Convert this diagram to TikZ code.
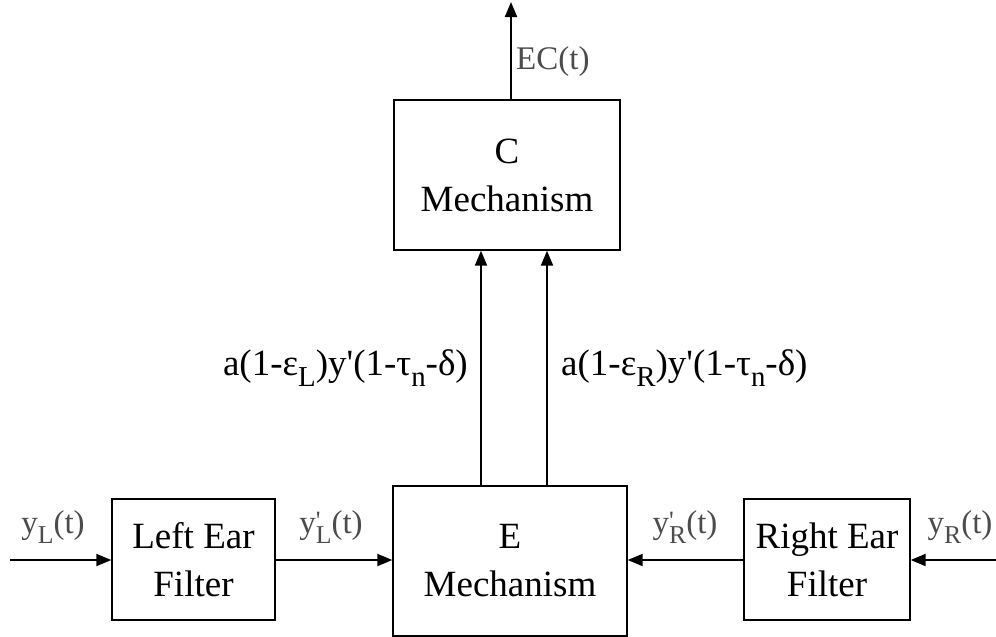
\documentclass[tikz,border=0pt]{standalone}
\usepackage{fontspec}
\usepackage{graphicx}
\setmainfont{Liberation Serif}
\usetikzlibrary{arrows.meta}
\newcommand{\sub}[1]{\raisebox{-0.28em}{\scalebox{0.78}{#1}}}
\newcommand{\pr}{\rlap{\raisebox{0.12em}{\scalebox{0.8}{\textquotesingle}}}}
\newcommand{\apos}{\textquotesingle}
\begin{document}
\begin{tikzpicture}[x=1pt,y=1pt,
  box/.style={draw, line width=1.4pt, rectangle, align=center, inner sep=0pt,
    font=\fontsize{37}{48}\selectfont},
  arr/.style={line width=2pt, -{Triangle[length=15pt,width=12pt]}},
  lbl/.style={font=\fontsize{37}{40}\selectfont, inner sep=0pt},
  sig/.style={font=\fontsize{33}{36}\selectfont, inner sep=0pt, text=black!70}]
\useasboundingbox (0,0) rectangle (996,-637);
\node[box, minimum width=226, minimum height=150] (C) at (507,-175) {C\\Mechanism};
\node[box, minimum width=234, minimum height=150] (E) at (510,-561) {E\\Mechanism};
\node[box, minimum width=163, minimum height=121] (LF) at (193.5,-559.5) {Left Ear\\Filter};
\node[box, minimum width=166, minimum height=121] (RF) at (827,-559.5) {Right Ear\\Filter};
\coordinate (inL) at (10,-560);
\coordinate (inR) at (996,-560);
\coordinate (out) at (511,-2);
\coordinate (upL) at (481,0);
\coordinate (upR) at (547,0);
\draw[arr] (inL) -- (LF.west |- inL);
\draw[arr] (LF.east |- inL) -- (E.west |- inL);
\draw[arr] (inR) -- (RF.east |- inR);
\draw[arr] (RF.west |- inR) -- (E.east |- inR);
\draw[arr] (E.north -| upL) -- (C.south -| upL);
\draw[arr] (E.north -| upR) -- (C.south -| upR);
\draw[arr] (C.north -| out) -- (out);
\node[sig] (lyL) at (53,-527) {y\sub{L}(t)};
\node[sig] (lyLp) at (331,-527) {y\pr\sub{L}(t)};
\node[sig] (lyRp) at (685,-527) {y\pr\sub{R}(t)};
\node[sig] (lyR) at (960,-527) {y\sub{R}(t)};
\node[sig, anchor=west] (lEC) at (516,-62) {EC(t)};
\node[lbl, anchor=east] (lL) at (468,-368) {a(1-ε\sub{L})y\apos(1-τ\sub{n}-δ)};
\node[lbl, anchor=west] (lR) at (561,-368) {a(1-ε\sub{R})y\apos(1-τ\sub{n}-δ)};
\end{tikzpicture}
\end{document}
